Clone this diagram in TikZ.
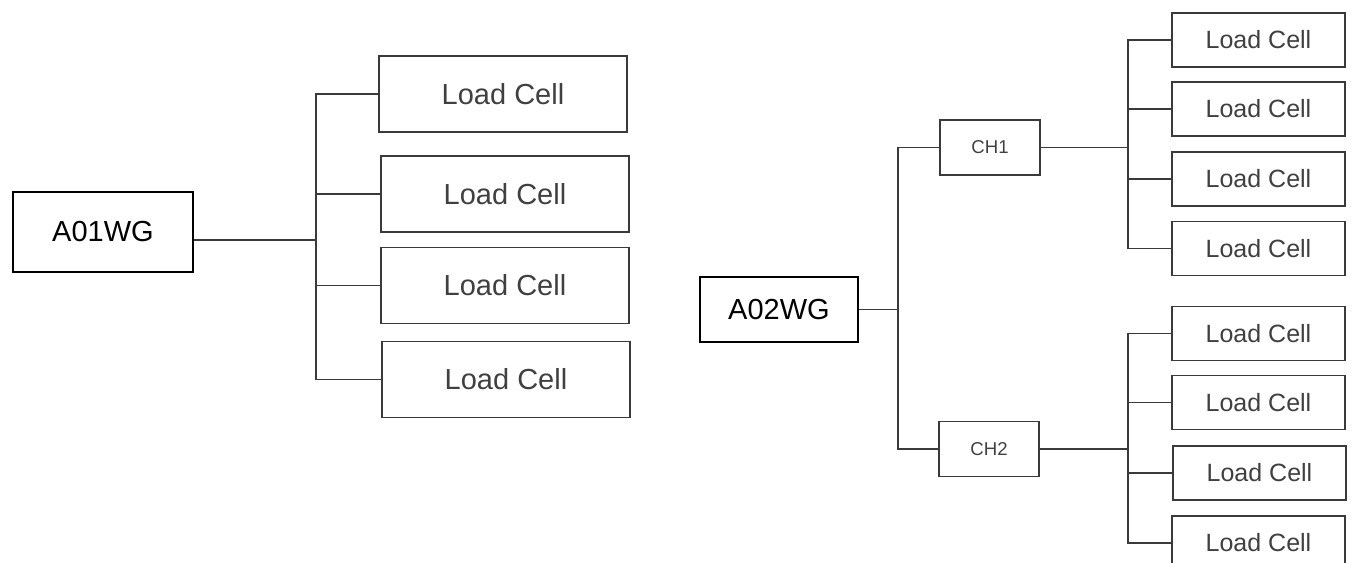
\documentclass[tikz,border=0pt]{standalone}
\usepackage{fontspec}
\setmainfont{Liberation Sans}
\usepackage{tikz}
\usetikzlibrary{calc,positioning}
\usepackage{xcolor}

\definecolor{linegray}{HTML}{3A3A3A}
\definecolor{textgray}{HTML}{404040}

\tikzset{
    wire/.style={draw=linegray, line width=0.8pt},
    hub/.style={draw=black, line width=0.8pt, inner sep=0pt, text=black},
    cellbig/.style={draw=linegray, line width=0.8pt, inner sep=0pt, text=textgray,
        minimum width=124pt, minimum height=38pt, font=\fontsize{14.5}{17}\selectfont},
    cellsmall/.style={draw=linegray, line width=0.8pt, inner sep=0pt, text=textgray,
        minimum width=86.5pt, minimum height=27pt, font=\fontsize{12.5}{15}\selectfont},
    chan/.style={draw=linegray, line width=0.8pt, inner sep=0pt, text=textgray,
        minimum width=50pt, minimum height=27.5pt, font=\fontsize{9.3}{11}\selectfont}
}

\begin{document}
\begin{tikzpicture}[x=0.5pt, y=-0.5pt]
    \useasboundingbox (0,0) rectangle (1357,563);
    \clip (0,0) rectangle (1357,563);

    % Left group: A01WG
    \node[hub, minimum width=90pt, minimum height=40pt, font=\fontsize{14.5}{17}\selectfont] (a01) at (103,232) {A01WG};
    \node[cellbig] (lca) at (503,94) {Load Cell};
    \node[cellbig] (lcb) at (505,194) {Load Cell};
    \node[cellbig] (lcc) at (505,285.5) {Load Cell};
    \node[cellbig] (lcd) at (506,379.5) {Load Cell};

    % Left trunk
    \coordinate (ta) at (316,240);
    \draw[wire] (a01.east |- ta) -- (ta);
    \draw[wire] (lca.west) -| (ta);
    \draw[wire] (lcb.west) -| (ta);
    \draw[wire] (lcc.west) -| (ta);
    \draw[wire] (lcd.west) -| (ta);

    % Right group: A02WG with two channels
    \node[hub, line width=1.2pt, minimum width=79pt, minimum height=32.5pt, font=\fontsize{14.5}{17}\selectfont] (a02) at (779,309.5) {A02WG\hspace{7pt}};
    \node[chan] (ch1) at (990,147.5) {CH1};
    \node[chan] (ch2) at (989,449) {CH2};

    \node[cellsmall] (lr1) at (1258.5,40) {Load Cell};
    \node[cellsmall] (lr2) at (1258.5,109) {Load Cell};
    \node[cellsmall] (lr3) at (1258.5,179) {Load Cell};
    \node[cellsmall] (lr4) at (1258.5,248.5) {Load Cell};
    \node[cellsmall] (lr5) at (1258.5,333.5) {Load Cell};
    \node[cellsmall] (lr6) at (1258.5,402.5) {Load Cell};
    \node[cellsmall] (lr7) at (1259.5,473) {Load Cell};
    \node[cellsmall] (lr8) at (1258.5,543) {Load Cell};

    % Right trunks
    \coordinate (tb) at (898,309.5);
    \coordinate (tc) at (1128,147.5);
    \coordinate (td) at (1128,449);
    \draw[wire] (a02) -- (tb);
    \draw[wire] (ch1.west) -| (tb);
    \draw[wire] (ch2.west) -| (tb);

    \draw[wire] (ch1) -- (tc);
    \draw[wire] (lr1.west) -| (tc);
    \draw[wire] (lr2.west) -| (tc);
    \draw[wire] (lr3.west) -| (tc);
    \draw[wire] (lr4.west) -| (tc);

    \draw[wire] (ch2) -- (td);
    \draw[wire] (lr5.west) -| (td);
    \draw[wire] (lr6.west) -| (td);
    \draw[wire] (lr7.west) -| (td);
    \draw[wire] (lr8.west) -| (td);
\end{tikzpicture}
\end{document}
